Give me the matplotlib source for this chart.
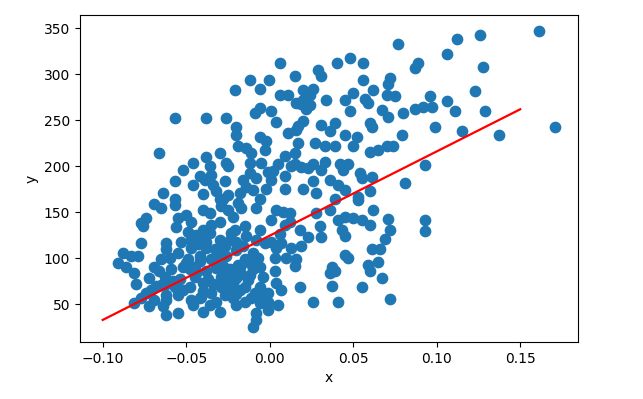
import matplotlib
matplotlib.use("Agg")
import matplotlib.pyplot as plt

# scatter points (x, y)
x_vals = [
    0.161, 0.126, 0.112, 0.077, 0.106, 0.048, 0.040, 0.006, 0.056, 0.128,
    0.089, 0.087, 0.029, 0.031, 0.015, -0.012, -0.0005, 0.056, 0.072, 0.071,
    -0.021, -0.006, 0.026, 0.123, 0.062, 0.050, 0.006, 0.011, 0.057, 0.059,
    0.070, 0.075, 0.096, 0.020, 0.020, 0.016, 0.024, 0.034, 0.045, 0.106,
    0.097, 0.092, 0.087, 0.080, 0.111, 0.129, -0.057, -0.038, -0.026, -0.009,
    -0.006, 0.001, 0.004, 0.048, 0.067, 0.071, 0.060, 0.061, 0.099, 0.171,
    0.115, 0.137, 0.079, -0.020, -0.020, 0.017, 0.020, 0.011, 0.031, 0.036,
    0.039, 0.045, 0.052, -0.006, -0.002, -0.019, -0.014, -0.003, 0.017, 0.027,
    0.033, 0.039, 0.050, -0.066, -0.030, -0.011, 0.015, 0.060, 0.065, 0.070,
    0.074, 0.009, -0.038, -0.026, -0.012, -0.046, -0.036, -0.005, 0.005, 0.015,
    0.026, 0.033, 0.042, 0.047, 0.093, -0.052, -0.042, -0.035, -0.025, -0.012,
    -0.001, 0.009, 0.019, 0.023, 0.031, 0.044, 0.054, 0.055, 0.061, -0.057,
    -0.046, -0.039, -0.027, -0.008, 0.0005, 0.009, 0.020, 0.026, 0.036, 0.041,
    0.081, -0.064, -0.032, -0.025, -0.018, -0.010, 0.028, 0.045, 0.053, 0.060,
    -0.069, -0.057, -0.057, -0.030, -0.019, -0.006, 0.039, 0.053, -0.065, -0.077,
    -0.074, -0.076, -0.055, -0.047, -0.040, -0.036, -0.029, -0.025, -0.017, -0.008,
    0.004, 0.012, 0.028, 0.036, 0.041, 0.045, 0.062, 0.093, 0.093, 0.071,
    0.072, 0.050, 0.055, 0.060, -0.056, -0.049, -0.040, -0.035, -0.021, -0.015,
    -0.006, 0.0005, 0.009, 0.018, 0.030, 0.043, 0.045, 0.023, 0.031, -0.077,
    -0.062, -0.047, -0.039, -0.030, -0.020, -0.014, -0.008, -0.003, 0.007, 0.013,
    0.019, 0.069, -0.088, -0.091, -0.083, -0.079, -0.062, -0.055, -0.047, -0.038,
    -0.027, -0.020, -0.010, 0.004, 0.061, 0.066, 0.045, 0.047, -0.065, -0.060,
    -0.049, -0.042, -0.035, -0.026, -0.015, -0.007, 0.016, 0.015, -0.086, -0.081,
    -0.069, -0.059, -0.052, -0.045, -0.038, -0.032, -0.024, -0.018, -0.006, 0.037,
    0.039, 0.036, 0.059, 0.060, 0.065, -0.072, -0.063, -0.054, -0.045, -0.037,
    -0.029, -0.020, -0.012, 0.003, 0.067, -0.080, -0.065, -0.057, -0.048, -0.040,
    -0.029, -0.022, -0.015, -0.006, 0.004, 0.018, 0.037, 0.055, -0.074, -0.062,
    -0.055, -0.035, -0.025, -0.009, -0.001, 0.007, -0.077, -0.069, -0.062, -0.042,
    -0.032, -0.022, -0.015, -0.006, -0.001, 0.072, 0.026, 0.041, -0.081, -0.072,
    -0.064, -0.046, -0.036, -0.020, -0.006, 0.005, -0.030, -0.040, -0.055, -0.062,
    -0.008, -0.001, -0.008, -0.010,
    -0.050, -0.044, -0.033, -0.028, -0.022, -0.017, -0.012, -0.004, -0.058, -0.052,
    -0.040, -0.034, -0.027, -0.018, -0.047, -0.068, -0.066, -0.071, -0.062, -0.030,
    -0.024, -0.043, -0.036, -0.030, -0.022, -0.040, -0.034, -0.028, -0.016, -0.014,
    -0.002, 0.002, 0.008, 0.012, 0.016, 0.022, 0.019, 0.024, 0.013, 0.010,
    0.003,
    -0.048, -0.042, -0.031, -0.026, -0.019, -0.013, -0.044, -0.038, -0.050, -0.033,
    -0.023, -0.016, -0.010, -0.053, -0.041, -0.027, -0.020, -0.011, 0.001, 0.006,
]
y_vals = [
    347, 343, 338, 333, 322, 318, 312, 312, 312, 308,
    312, 307, 305, 298, 298, 294, 294, 294, 296, 289,
    283, 284, 284, 282, 283, 280, 278, 278, 273, 269,
    278, 276, 276, 283, 272, 269, 267, 272, 272, 271,
    265, 264, 262, 258, 260, 260, 253, 253, 253, 258,
    263, 260, 248, 260, 261, 254, 247, 243, 243, 243,
    238, 234, 234, 243, 234, 244, 249, 236, 245, 238,
    247, 234, 232, 232, 227, 222, 220, 218, 225, 225,
    222, 222, 222, 214, 214, 214, 214, 216, 218, 222,
    222, 211, 210, 204, 204, 204, 200, 204, 203, 202,
    203, 205, 202, 203, 201, 196, 189, 191, 200, 193,
    194, 189, 199, 198, 196, 196, 193, 187, 188, 184,
    180, 185, 184, 187, 185, 175, 175, 184, 185, 180,
    182, 171, 173, 169, 171, 174, 171, 174, 167, 173,
    159, 164, 158, 164, 160, 165, 164, 163, 155, 138,
    144, 135, 144, 140, 153, 149, 157, 153, 155, 155,
    153, 149, 149, 153, 142, 145, 153, 142, 130, 143,
    131, 144, 142, 136, 134, 129, 131, 136, 131, 135,
    131, 142, 136, 131, 135, 131, 124, 123, 123, 117,
    117, 120, 124, 120, 118, 124, 120, 117, 117, 111,
    113, 121, 106, 95, 102, 102, 110, 106, 111, 111,
    113, 109, 106, 111, 110, 110, 104, 100, 99, 100,
    99, 102, 99, 102, 99, 100, 99, 92, 91, 84,
    91, 88, 91, 91, 86, 89, 88, 91, 91, 91,
    86, 84, 93, 86, 96, 79, 80, 77, 80, 77,
    80, 79, 82, 86, 79, 72, 71, 69, 69, 73,
    69, 73, 69, 69, 73, 69, 70, 69, 62, 60,
    60, 62, 64, 62, 62, 66, 57, 55, 55, 57,
    53, 57, 53, 59, 53, 56, 52, 52, 51, 48,
    48, 49, 49, 49, 51, 49, 42, 42, 41, 38,
    41, 44, 33, 25,
    95, 84, 95, 92, 85, 83, 95, 80, 75, 66,
    64, 72, 60, 65, 55, 70, 86, 65, 72, 107,
    120, 115, 128, 140, 145, 170, 180, 165, 185, 178,
    175, 195, 150, 140, 240, 262, 268, 277, 200, 100,
    100,
    88, 97, 104, 80, 93, 76, 125, 118, 147, 110,
    128, 113, 88, 118, 58, 76, 61, 57, 118, 126,
]

# regression line endpoints
line_x = [-0.10, 0.15]
line_y = [33, 262]

fig = plt.figure(figsize=(6.43, 3.99), dpi=100)
ax = fig.add_axes([80 / 643, 1 - 342 / 399, (578 - 80) / 643, (342 - 15) / 399])
ax.scatter(x_vals, y_vals, s=55, color="#1f77b4")
ax.plot(line_x, line_y, color="red", lw=1.6)
ax.set_xlim(-0.1136, 0.1846)
ax.set_ylim(9, 364.5)
ax.set_xticks([-0.10, -0.05, 0.00, 0.05, 0.10, 0.15])
ax.set_xticklabels(["\u22120.10", "\u22120.05", "0.00", "0.05", "0.10", "0.15"])
ax.set_yticks([50, 100, 150, 200, 250, 300, 350])
ax.tick_params(labelsize=10)
ax.set_xlabel("x", fontsize=10)
ax.set_ylabel("y", fontsize=10)
fig.savefig("out.png", dpi=100)
